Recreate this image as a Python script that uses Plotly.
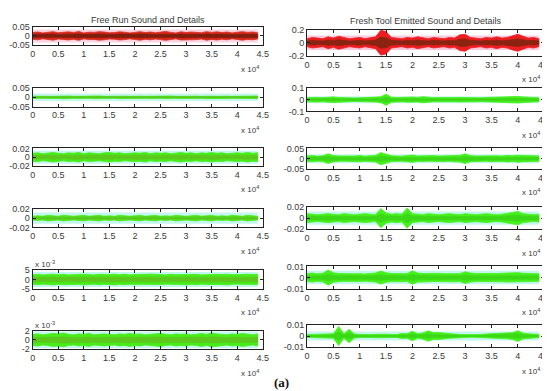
import plotly.graph_objects as go

W, H = 550, 391

# sample positions (x 10^4 samples)
SAMPLE_X = [i / 10 for i in range(45)]
X_TICKS = [0, 0.5, 1, 1.5, 2, 2.5, 3, 3.5, 4, 4.5]
X_TICK_TEXT = ["0", "0.5", "1", "1.5", "2", "2.5", "3", "3.5", "4", "4.5"]

# amplitude envelopes (left column: free run)
free_run_sound = [0.018,0.021,0.016,0.020,0.023, 0.017,0.019,0.022,0.018,0.024, 0.016,0.020,0.019,0.023,0.021,
                  0.017,0.018,0.022,0.020,0.016, 0.019,0.023,0.018,0.021,0.017, 0.020,0.024,0.019,0.016,0.022,
                  0.018,0.021,0.020,0.017,0.023, 0.019,0.022,0.018,0.021,0.016, 0.020,0.023,0.019,0.021,0.017]
free_run_d1 = [0.006,0.005,0.007,0.006,0.005, 0.006,0.008,0.007,0.005,0.006, 0.007,0.005,0.006,0.007,0.005,
               0.006,0.005,0.007,0.006,0.005, 0.007,0.006,0.005,0.006,0.007, 0.005,0.006,0.007,0.005,0.006,
               0.007,0.005,0.006,0.005,0.007, 0.006,0.005,0.007,0.006,0.005, 0.006,0.007,0.005,0.006,0.007]
free_run_d2 = [0.009,0.010,0.008,0.009,0.011, 0.009,0.008,0.010,0.009,0.011, 0.008,0.010,0.009,0.008,0.010,
               0.011,0.009,0.010,0.008,0.009, 0.010,0.009,0.011,0.008,0.010, 0.009,0.010,0.008,0.009,0.011,
               0.009,0.010,0.008,0.010,0.009, 0.011,0.009,0.010,0.008,0.009, 0.010,0.009,0.011,0.009,0.010]
free_run_d3 = [0.004,0.005,0.004,0.006,0.005, 0.004,0.006,0.005,0.004,0.005, 0.006,0.004,0.005,0.006,0.004,
               0.005,0.004,0.006,0.005,0.004, 0.005,0.006,0.004,0.005,0.006, 0.004,0.005,0.004,0.006,0.005,
               0.004,0.005,0.006,0.004,0.005, 0.006,0.004,0.005,0.004,0.006, 0.005,0.004,0.006,0.005,0.004]
free_run_d4 = [2.6,2.8,2.5,2.7,2.9, 2.6,2.8,2.5,2.7,2.6, 2.9,2.7,2.5,2.8,2.6, 2.7,2.9,2.6,2.8,2.5,
               2.7,2.6,2.8,2.9,2.6, 2.7,2.5,2.8,2.6,2.7, 2.9,2.6,2.8,2.5,2.7, 2.6,2.8,2.7,2.9,2.6,
               2.5,2.7,2.8,2.6,2.7]  # x 10^-3
free_run_d5 = [1.2,1.3,1.1,1.2,1.4, 1.3,1.5,1.2,1.1,1.3, 1.2,1.4,1.1,1.2,1.3, 1.2,1.1,1.3,1.2,1.4,
               1.2,1.3,1.1,1.2,1.3, 1.4,1.2,1.1,1.3,1.2, 1.3,1.1,1.2,1.4,1.2, 1.5,1.3,1.2,1.1,1.3,
               1.2,1.4,1.2,1.1,1.3]  # x 10^-3

# right column: fresh tool
fresh_sound = [0.06,0.08,0.07,0.06,0.09, 0.07,0.10,0.08,0.06,0.07, 0.08,0.06,0.07,0.09,0.19,
               0.17,0.08,0.07,0.06,0.08, 0.07,0.09,0.07,0.06,0.08, 0.07,0.06,0.08,0.07,0.12,
               0.13,0.08,0.07,0.06,0.08, 0.07,0.09,0.07,0.08,0.11, 0.13,0.10,0.07,0.08,0.06]
fresh_d1 = [0.018,0.022,0.020,0.017,0.021, 0.024,0.019,0.016,0.018,0.015, 0.016,0.018,0.017,0.020,0.025,
            0.048,0.022,0.019,0.018,0.021, 0.023,0.020,0.026,0.019,0.017, 0.018,0.020,0.016,0.018,0.019,
            0.017,0.020,0.018,0.016,0.019, 0.021,0.018,0.020,0.024,0.026, 0.028,0.024,0.020,0.018,0.017]
fresh_d2 = [0.013,0.015,0.012,0.014,0.024, 0.015,0.013,0.012,0.014,0.013, 0.015,0.012,0.014,0.016,0.030,
            0.022,0.014,0.013,0.012,0.015, 0.018,0.013,0.014,0.012,0.015, 0.013,0.014,0.012,0.015,0.016,
            0.024,0.015,0.013,0.014,0.012, 0.015,0.014,0.013,0.016,0.014, 0.017,0.015,0.013,0.014,0.013]
fresh_d3 = [0.008,0.007,0.006,0.007,0.008, 0.007,0.006,0.008,0.007,0.006, 0.007,0.008,0.007,0.006,0.017,
            0.009,0.007,0.008,0.007,0.018, 0.008,0.007,0.006,0.008,0.007, 0.006,0.007,0.008,0.007,0.006,
            0.008,0.007,0.006,0.007,0.008, 0.007,0.006,0.007,0.008,0.010, 0.012,0.008,0.007,0.006,0.007]
fresh_d4 = [0.0035,0.0040,0.0033,0.0038,0.0068, 0.0042,0.0036,0.0034,0.0037,0.0033, 0.0035,0.0032,0.0036,0.0040,0.0058,
            0.0042,0.0036,0.0034,0.0037,0.0035, 0.0060,0.0040,0.0036,0.0038,0.0035, 0.0037,0.0034,0.0036,0.0038,0.0035,
            0.0052,0.0040,0.0036,0.0035,0.0037, 0.0039,0.0036,0.0038,0.0040,0.0042, 0.0044,0.0038,0.0036,0.0035,0.0034]
fresh_d5 = [0.0012,0.0014,0.0016,0.0022,0.0018, 0.0020,0.0085,0.0020,0.0060,0.0018, 0.0014,0.0012,0.0013,0.0015,0.0018,
            0.0016,0.0014,0.0013,0.0022,0.0020, 0.0042,0.0020,0.0028,0.0046,0.0030, 0.0032,0.0026,0.0020,0.0016,0.0013,
            0.0012,0.0011,0.0012,0.0013,0.0018, 0.0020,0.0018,0.0022,0.0025,0.0030, 0.0048,0.0026,0.0020,0.0016,0.0014]

LEFT_SERIES = [free_run_sound, free_run_d1, free_run_d2, free_run_d3, free_run_d4, free_run_d5]
RIGHT_SERIES = [fresh_sound, fresh_d1, fresh_d2, fresh_d3, fresh_d4, fresh_d5]
LEFT_LIMITS = [0.05, 0.05, 0.02, 0.02, 5, 2]
RIGHT_LIMITS = [0.2, 0.1, 0.05, 0.02, 0.01, 0.01]
LEFT_YTEXT = [["0.05", "0", "-0.05"], ["0.05", "0", "-0.05"], ["0.02", "0", "-0.02"],
              ["0.02", "0", "-0.02"], ["5", "0", "-5"], ["2", "0", "-2"]]
RIGHT_YTEXT = [["0.2", "0", "-0.2"], ["0.1", "0", "-0.1"], ["0.05", "0", "-0.05"],
               ["0.02", "0", "-0.02"], ["0.01", "0", "-0.01"], ["0.01", "0", "-0.01"]]
LEFT_HALO = [0.035, 0.02, 0.015, 0.012, 4.0, 1.8]
RIGHT_HALO = [0.11, 0.03, 0.022, 0.012, 0.006, 0.004]

# layout in pixels
LEFT_X = (22, 256)
RIGHT_X = (301, 542)
LEFT_BOXES = [(14, 33), (77, 96), (139, 157), (201, 220), (264, 283), (326, 345)]
RIGHT_BOXES = [(17, 44), (77, 101), (139, 160), (199, 222), (260, 283), (320, 343)]

FONT = "Liberation Sans, Arial, sans-serif"
TXT = "#3a3a3a"


def px(x):
    return x / W


def py(y):
    return 1 - y / H


fig = go.Figure()
shapes = []
annotations = []
idx = 0


def add_panel(xpx, box, amp, lim, ytext, halo, outer, core, halo_col):
    global idx
    idx += 1
    xa = "x" if idx == 1 else f"x{idx}"
    ya = "y" if idx == 1 else f"y{idx}"
    xkey = "xaxis" if idx == 1 else f"xaxis{idx}"
    ykey = "yaxis" if idx == 1 else f"yaxis{idx}"
    shapes.append(dict(type="rect", xref=xa, yref=ya, x0=SAMPLE_X[0], x1=SAMPLE_X[-1],
                       y0=-halo, y1=halo, fillcolor=halo_col, line=dict(width=0), layer="below"))
    xs = SAMPLE_X + SAMPLE_X[::-1]
    ys = list(amp) + [-a for a in amp[::-1]]
    fig.add_trace(go.Scatter(x=xs, y=ys, fill="toself", fillcolor=outer, mode="lines",
                             line=dict(color=outer, width=0.8), xaxis=xa, yaxis=ya,
                             hoverinfo="skip", showlegend=False))
    ys2 = [a * 0.45 for a in amp] + [-a * 0.45 for a in amp[::-1]]
    fig.add_trace(go.Scatter(x=xs, y=ys2, fill="toself", fillcolor=core, mode="lines",
                             line=dict(color=core, width=0.6), xaxis=xa, yaxis=ya,
                             hoverinfo="skip", showlegend=False))
    fig.layout[xkey] = dict(domain=[px(xpx[0]), px(xpx[1])], anchor=ya, range=[0, 4.5],
                            tickvals=X_TICKS, ticktext=X_TICK_TEXT, ticks="inside", ticklen=3,
                            tickcolor="#222", showline=True, linecolor="#222", linewidth=1,
                            mirror="ticks", showgrid=False, zeroline=False,
                            tickfont=dict(family=FONT, size=9, color=TXT))
    fig.layout[ykey] = dict(domain=[py(box[1]), py(box[0])], anchor=xa, range=[-lim, lim],
                            tickvals=[lim, 0, -lim], ticktext=ytext, ticks="inside", ticklen=3,
                            tickcolor="#222", showline=True, linecolor="#222", linewidth=1,
                            mirror="ticks", showgrid=False, zeroline=False,
                            tickfont=dict(family=FONT, size=9, color=TXT))


for i in range(6):
    if i == 0:
        add_panel(LEFT_X, LEFT_BOXES[i], LEFT_SERIES[i], LEFT_LIMITS[i], LEFT_YTEXT[i],
                  LEFT_HALO[i], "#d8281c", "#7e1e0c", "#fbd3e0")
        add_panel(RIGHT_X, RIGHT_BOXES[i], RIGHT_SERIES[i], RIGHT_LIMITS[i], RIGHT_YTEXT[i],
                  RIGHT_HALO[i], "#ec1e22", "#8a2410", "#fbc9dc")
    else:
        add_panel(LEFT_X, LEFT_BOXES[i], LEFT_SERIES[i], LEFT_LIMITS[i], LEFT_YTEXT[i],
                  LEFT_HALO[i], "#48ec1a", "#5cc81e", "#c4f6ee")
        add_panel(RIGHT_X, RIGHT_BOXES[i], RIGHT_SERIES[i], RIGHT_LIMITS[i], RIGHT_YTEXT[i],
                  RIGHT_HALO[i], "#46f01c", "#3cd818", "#c4f6ee")

for i in range(6):
    for xr, boxes in ((LEFT_X, LEFT_BOXES), (RIGHT_X, RIGHT_BOXES)):
        annotations.append(dict(text="x 10<sup>4</sup>", x=px(xr[1] - 2), y=py(boxes[i][1] + 24),
                                xref="paper", yref="paper", xanchor="right", yanchor="middle",
                                showarrow=False, font=dict(family=FONT, size=8, color=TXT)))

for i in (4, 5):
    annotations.append(dict(text="x 10<sup>-3</sup>", x=px(22), y=py(LEFT_BOXES[i][0] - 6),
                            xref="paper", yref="paper", xanchor="left", yanchor="middle",
                            showarrow=False, font=dict(family=FONT, size=8, color=TXT)))

annotations.append(dict(text="Free Run Sound and Details", x=px(139), y=py(7), xref="paper",
                        yref="paper", showarrow=False, xanchor="center", yanchor="middle",
                        font=dict(family=FONT, size=9, color=TXT)))
annotations.append(dict(text="Fresh Tool Emitted Sound and Details", x=px(421), y=py(8), xref="paper",
                        yref="paper", showarrow=False, xanchor="center", yanchor="middle",
                        font=dict(family=FONT, size=9, color=TXT)))
annotations.append(dict(text="<b>(a)</b>", x=px(275), y=py(379), xref="paper", yref="paper",
                        showarrow=False, xanchor="center", yanchor="middle",
                        font=dict(family="Liberation Serif, Times New Roman, serif", size=13, color="#111")))

fig.update_layout(width=W, height=H, margin=dict(l=0, r=0, t=0, b=0), paper_bgcolor="white",
                  plot_bgcolor="white", shapes=shapes, annotations=annotations, showlegend=False)

fig.write_html("out.html")
